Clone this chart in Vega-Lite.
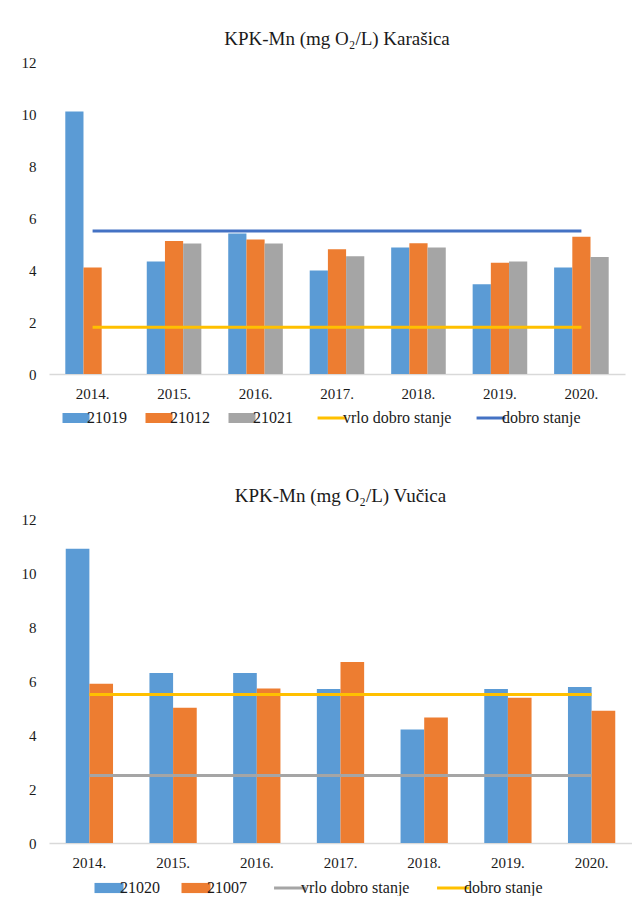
{
  "$schema": "https://vega.github.io/schema/vega-lite/v6.json",
  "background": "white",
  "padding": {"left": 21, "top": 30, "right": 0, "bottom": 0},
  "spacing": 61,
  "config": {
    "font": "Liberation Serif",
    "view": {"stroke": null},
    "title": {"font": "Liberation Serif", "fontSize": 19, "fontWeight": "normal", "color": "#1a1a1a", "offset": 6},
    "axis": {"labelFont": "Liberation Serif", "labelFontSize": 15, "labelColor": "#1a1a1a", "grid": false, "ticks": false, "title": null},
    "legend": {"labelFont": "Liberation Serif", "labelFontSize": 16, "labelColor": "#1a1a1a"}
  },
  "datasets": {
    "topBars": [
      {"year": "2014.", "series": "21019", "value": 10.1},
      {"year": "2014.", "series": "21012", "value": 4.1},
      {"year": "2015.", "series": "21019", "value": 4.33},
      {"year": "2015.", "series": "21012", "value": 5.12},
      {"year": "2015.", "series": "21021", "value": 5.02},
      {"year": "2016.", "series": "21019", "value": 5.4},
      {"year": "2016.", "series": "21012", "value": 5.17},
      {"year": "2016.", "series": "21021", "value": 5.02},
      {"year": "2017.", "series": "21019", "value": 3.98},
      {"year": "2017.", "series": "21012", "value": 4.8},
      {"year": "2017.", "series": "21021", "value": 4.53},
      {"year": "2018.", "series": "21019", "value": 4.87},
      {"year": "2018.", "series": "21012", "value": 5.03},
      {"year": "2018.", "series": "21021", "value": 4.87},
      {"year": "2019.", "series": "21019", "value": 3.45},
      {"year": "2019.", "series": "21012", "value": 4.28},
      {"year": "2019.", "series": "21021", "value": 4.33},
      {"year": "2020.", "series": "21019", "value": 4.1},
      {"year": "2020.", "series": "21012", "value": 5.28},
      {"year": "2020.", "series": "21021", "value": 4.5}
    ],
    "topLines": [
      {"year": "2014.", "series": "vrlo dobro stanje", "value": 1.8},
      {"year": "2015.", "series": "vrlo dobro stanje", "value": 1.8},
      {"year": "2016.", "series": "vrlo dobro stanje", "value": 1.8},
      {"year": "2017.", "series": "vrlo dobro stanje", "value": 1.8},
      {"year": "2018.", "series": "vrlo dobro stanje", "value": 1.8},
      {"year": "2019.", "series": "vrlo dobro stanje", "value": 1.8},
      {"year": "2020.", "series": "vrlo dobro stanje", "value": 1.8},
      {"year": "2014.", "series": "dobro stanje", "value": 5.5},
      {"year": "2015.", "series": "dobro stanje", "value": 5.5},
      {"year": "2016.", "series": "dobro stanje", "value": 5.5},
      {"year": "2017.", "series": "dobro stanje", "value": 5.5},
      {"year": "2018.", "series": "dobro stanje", "value": 5.5},
      {"year": "2019.", "series": "dobro stanje", "value": 5.5},
      {"year": "2020.", "series": "dobro stanje", "value": 5.5}
    ],
    "botBars": [
      {"year": "2014.", "series": "21020", "value": 10.9},
      {"year": "2014.", "series": "21007", "value": 5.9},
      {"year": "2015.", "series": "21020", "value": 6.3},
      {"year": "2015.", "series": "21007", "value": 5.01},
      {"year": "2016.", "series": "21020", "value": 6.3},
      {"year": "2016.", "series": "21007", "value": 5.72},
      {"year": "2017.", "series": "21020", "value": 5.7},
      {"year": "2017.", "series": "21007", "value": 6.7},
      {"year": "2018.", "series": "21020", "value": 4.2},
      {"year": "2018.", "series": "21007", "value": 4.65},
      {"year": "2019.", "series": "21020", "value": 5.7},
      {"year": "2019.", "series": "21007", "value": 5.38},
      {"year": "2020.", "series": "21020", "value": 5.78},
      {"year": "2020.", "series": "21007", "value": 4.9}
    ],
    "botLines": [
      {"year": "2014.", "series": "vrlo dobro stanje", "value": 2.5},
      {"year": "2015.", "series": "vrlo dobro stanje", "value": 2.5},
      {"year": "2016.", "series": "vrlo dobro stanje", "value": 2.5},
      {"year": "2017.", "series": "vrlo dobro stanje", "value": 2.5},
      {"year": "2018.", "series": "vrlo dobro stanje", "value": 2.5},
      {"year": "2019.", "series": "vrlo dobro stanje", "value": 2.5},
      {"year": "2020.", "series": "vrlo dobro stanje", "value": 2.5},
      {"year": "2014.", "series": "dobro stanje", "value": 5.5},
      {"year": "2015.", "series": "dobro stanje", "value": 5.5},
      {"year": "2016.", "series": "dobro stanje", "value": 5.5},
      {"year": "2017.", "series": "dobro stanje", "value": 5.5},
      {"year": "2018.", "series": "dobro stanje", "value": 5.5},
      {"year": "2019.", "series": "dobro stanje", "value": 5.5},
      {"year": "2020.", "series": "dobro stanje", "value": 5.5}
    ]
  },
  "vconcat": [
    {
      "title": {"text": "KPK-Mn (mg O₂/L) Karašica", "font": "Liberation Serif"},
      "width": 576,
      "height": 312,
      "layer": [
        {
          "data": {"name": "topBars"},
          "mark": {"type": "bar"},
          "encoding": {
            "x": {"field": "year", "type": "nominal", "scale": {"paddingInner": 0.33}, "axis": {"labelAngle": 0, "labelFont": "Liberation Serif", "labelFontSize": 15, "domainColor": "#D9D9D9", "domainWidth": 1.5, "labelPadding": 12}},
            "xOffset": {"field": "series", "type": "nominal", "scale": {"domain": ["21019", "21012", "21021"]}},
            "y": {"field": "value", "type": "quantitative", "scale": {"domain": [0, 12], "nice": false}, "axis": {"values": [0, 2, 4, 6, 8, 10, 12], "labelFont": "Liberation Serif", "labelFontSize": 15, "domain": false, "labelPadding": 13}},
            "color": {
              "field": "series", "type": "nominal",
              "scale": {"domain": ["21019", "21012", "21021", "vrlo dobro stanje", "dobro stanje"], "range": ["#5B9BD5", "#ED7D31", "#A5A5A5", "#FFC000", "#4472C4"]},
              "legend": {
                "title": null, "orient": "none", "legendX": 19, "legendY": 348, "direction": "horizontal", "columns": 5,
                "labelFont": "Liberation Serif", "labelFontSize": 16,
                "symbolSize": 729, "labelOffset": 3, "columnPadding": 18,
                "encode": {"symbols": {"update": {
                  "shape": {"signal": "(datum.value == 'vrlo dobro stanje' || datum.value == 'dobro stanje') ? 'M-1.07,0H1.07' : 'M-1,-0.37H1V0.37H-1Z'"},
                  "fill": {"signal": "datum.value == '21019' ? '#5B9BD5' : datum.value == '21012' ? '#ED7D31' : datum.value == '21021' ? '#A5A5A5' : 'transparent'"},
                  "stroke": {"signal": "datum.value == 'vrlo dobro stanje' ? '#FFC000' : datum.value == 'dobro stanje' ? '#4472C4' : 'transparent'"},
                  "strokeWidth": {"signal": "(datum.value == 'vrlo dobro stanje' || datum.value == 'dobro stanje') ? 3 : 0"},
                  "opacity": {"value": 1}
                }}}
              }
            }
          }
        },
        {
          "data": {"name": "topLines"},
          "mark": {"type": "line", "strokeWidth": 3},
          "encoding": {
            "x": {"field": "year", "type": "nominal"},
            "y": {"field": "value", "type": "quantitative"},
            "color": {"field": "series", "type": "nominal"}
          }
        }
      ]
    },
    {
      "title": {"text": "KPK-Mn (mg O₂/L) Vučica", "font": "Liberation Serif"},
      "width": 583,
      "height": 324,
      "layer": [
        {
          "data": {"name": "botBars"},
          "mark": {"type": "bar"},
          "encoding": {
            "x": {"field": "year", "type": "nominal", "scale": {"paddingInner": 0.435}, "axis": {"labelAngle": 0, "labelFont": "Liberation Serif", "labelFontSize": 15, "domainColor": "#D9D9D9", "domainWidth": 1.5, "labelPadding": 12}},
            "xOffset": {"field": "series", "type": "nominal", "scale": {"domain": ["21020", "21007"]}},
            "y": {"field": "value", "type": "quantitative", "scale": {"domain": [0, 12], "nice": false}, "axis": {"values": [0, 2, 4, 6, 8, 10, 12], "labelFont": "Liberation Serif", "labelFontSize": 15, "domain": false, "labelPadding": 13}},
            "color": {
              "field": "series", "type": "nominal",
              "scale": {"domain": ["21020", "21007", "vrlo dobro stanje", "dobro stanje"], "range": ["#5B9BD5", "#ED7D31", "#A5A5A5", "#FFC000"]},
              "legend": {
                "title": null, "orient": "none", "legendX": 52, "legendY": 361, "direction": "horizontal", "columns": 4,
                "labelFont": "Liberation Serif", "labelFontSize": 16,
                "symbolSize": 841, "labelOffset": 3, "columnPadding": 21,
                "encode": {"symbols": {"update": {
                  "shape": {"signal": "(datum.value == 'vrlo dobro stanje' || datum.value == 'dobro stanje') ? 'M-1.1,0H1.1' : 'M-1,-0.35H1V0.35H-1Z'"},
                  "fill": {"signal": "datum.value == '21020' ? '#5B9BD5' : datum.value == '21007' ? '#ED7D31' : 'transparent'"},
                  "stroke": {"signal": "datum.value == 'vrlo dobro stanje' ? '#A5A5A5' : datum.value == 'dobro stanje' ? '#FFC000' : 'transparent'"},
                  "strokeWidth": {"signal": "(datum.value == 'vrlo dobro stanje' || datum.value == 'dobro stanje') ? 3 : 0"},
                  "opacity": {"value": 1}
                }}}
              }
            }
          }
        },
        {
          "data": {"name": "botLines"},
          "mark": {"type": "line", "strokeWidth": 3},
          "encoding": {
            "x": {"field": "year", "type": "nominal"},
            "y": {"field": "value", "type": "quantitative"},
            "color": {"field": "series", "type": "nominal"}
          }
        }
      ]
    }
  ],
  "resolve": {
    "scale": {"color": "independent", "x": "independent", "y": "independent", "xOffset": "independent"},
    "legend": {"color": "independent"}
  }
}
